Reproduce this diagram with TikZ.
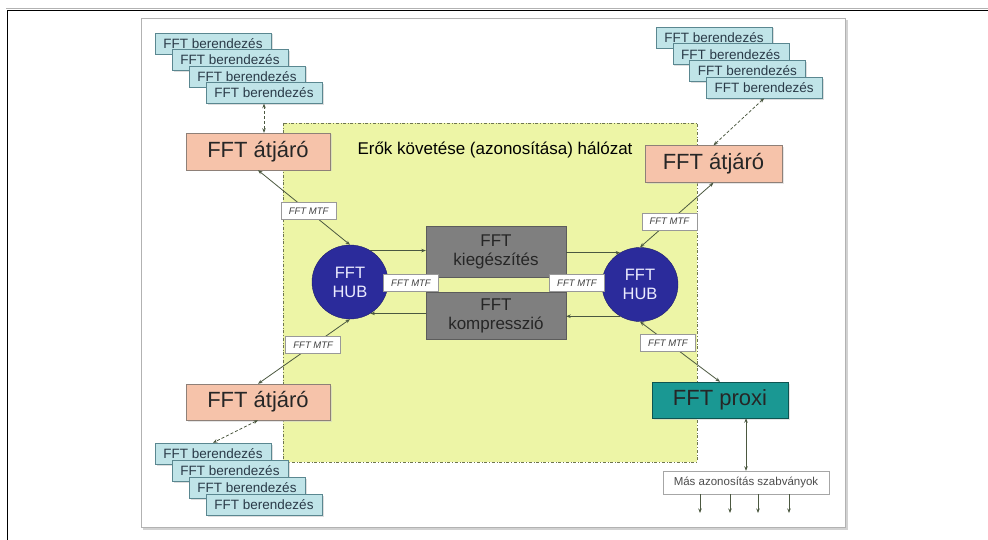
\documentclass[tikz,border=0pt]{standalone}
\usepackage{fontspec}
\setmainfont{Liberation Sans}
\usepackage{tikz}
\usetikzlibrary{positioning, arrows.meta, shapes.geometric, shadows}

\definecolor{netgreen}{HTML}{EDF5A6}
\definecolor{netborder}{HTML}{6E7550}
\definecolor{gwfill}{HTML}{F6C3AA}
\definecolor{gwborder}{HTML}{8E8078}
\definecolor{devfill}{HTML}{C0E4E8}
\definecolor{devborder}{HTML}{5A8790}
\definecolor{devtext}{HTML}{2A3A48}
\definecolor{hubblue}{HTML}{2B2B9B}
\definecolor{boxgray}{HTML}{7F7F7F}
\definecolor{boxborder}{HTML}{5C5C5C}
\definecolor{proxyteal}{HTML}{1A9893}
\definecolor{linecol}{HTML}{4B5840}

\tikzset{
  device/.style={draw=devborder, fill=devfill, minimum width=116pt, minimum height=21pt,
    inner sep=0pt, text=devtext, font=\fontsize{13.5}{14}\selectfont,
    drop shadow={shadow xshift=1.5pt, shadow yshift=-1.5pt, fill=black!25}},
  gateway/.style={draw=gwborder, fill=gwfill, minimum width=144pt, minimum height=37pt,
    inner sep=0pt, text=black!85, font=\fontsize{22}{24}\selectfont,
    drop shadow={shadow xshift=1.5pt, shadow yshift=-1.5pt, fill=black!20}},
  hub/.style={ellipse, draw=hubblue!70!black, fill=hubblue, minimum width=76pt,
    minimum height=74pt, inner sep=0pt, text=white!92!blue, align=center,
    font=\fontsize{16.5}{19}\selectfont},
  procbox/.style={draw=boxborder, fill=boxgray, minimum width=140pt, inner sep=0pt,
    text=black!85, align=center, font=\fontsize{17}{19}\selectfont},
  mtf/.style={draw=gray!80, fill=white, minimum width=55pt, minimum height=17pt,
    inner sep=0pt, text=black!75, font=\fontsize{9.5}{10}\selectfont\itshape},
  link/.style={draw=linecol, line width=0.8pt,
    {Stealth[length=4.5pt,width=3.5pt]}-{Stealth[length=4.5pt,width=3.5pt]}},
  oneway/.style={draw=linecol, line width=0.8pt, -{Stealth[length=4.5pt,width=3.5pt]}},
  devlink/.style={link, densely dashed},
}

\begin{document}
\begin{tikzpicture}[x=1pt, y=-1pt]
\useasboundingbox (0,0) rectangle (988,540);
\fill[white] (0,0) rectangle (988,540);
% page frame
\draw[gray!60, line width=0.6pt] (6,8.5) -- (988,8.5);
\draw[black, line width=1.4pt] (7.5,540) -- (7.5,10.5) -- (988,10.5);
\draw[gray!35, line width=2pt] (143,528.5) -- (846.5,528.5) -- (846.5,20);
\draw[gray!60, line width=0.7pt] (141,18) rectangle (845,527);

% network area
\draw[netborder, fill=netgreen, dash dot, line width=0.8pt] (283,123) rectangle (697,462);
\node (nettitle) at (495,150) {\fontsize{17}{19}\selectfont Erők követése (azonosítása) hálózat};

% devices
\foreach \i [count=\n] in {0,...,3} {
  \node[device] (tl\n) at (213+17*\i, 43.5+16.5*\i) {FFT berendezés};
  \node[device] (tr\n) at (714+16.7*\i, 37.5+16.7*\i) {FFT berendezés};
  \node[device] (bl\n) at (213+17*\i, 453.5+17*\i) {FFT berendezés};
}

% gateways
\node[gateway] (gwTL) at (258,151.5) {FFT átjáró};
\node[gateway, minimum width=137pt] (gwTR) at (713.5,164) {FFT átjáró};
\node[gateway, minimum height=36pt] (gwBL) at (258,402) {FFT átjáró};
\node[gateway, fill=proxyteal, draw=proxyteal!55!black, minimum width=136pt,
  minimum height=36pt, text=black!85] (proxy) at (720,400) {FFT proxi};
\node[draw=gray!70, fill=white, minimum width=166pt, minimum height=23pt, inner sep=0pt,
  text=black!70, font=\fontsize{11.5}{12}\selectfont] (other) at (746,482.5)
  {Más azonosítás szabványok};

% hubs and processing
\node[hub] (hubL) at (350,282) {FFT\\HUB};
\node[hub] (hubR) at (640,284.5) {FFT\\HUB};
\node[procbox, minimum height=51pt] (kieg) at (496,251.5) {FFT\\kiegészítés};
\node[procbox, minimum height=47pt] (kompr) at (496,315.5) {FFT\\kompresszió};

% connections
\draw[devlink] (tl4.south) -- (tl4.south |- gwTL.north);
\draw[devlink] (tr4.south) -- (gwTR.north);
\draw[devlink] (gwBL.south) -- (bl1.north);

\draw[link] (gwTL.south) -- node[mtf, pos=0.55] (mtfTL) {FFT MTF} (hubL.north);
\draw[link] (hubL.south) -- node[mtf, pos=0.4] (mtfBL) {FFT MTF} (gwBL.north);
\draw[link] (gwTR.south) -- node[mtf, pos=0.6] (mtfTR) {FFT MTF} (hubR.north);
\draw[link] (hubR.south) -- node[mtf, pos=0.35] (mtfBR) {FFT MTF} (proxy.north);

\draw[oneway] (hubL.57) -- (hubL.57 -| kieg.west);
\draw[oneway] (hubR.122 -| kieg.east) -- (hubR.122);
\draw[oneway] (hubR.-122) -- (hubR.-122 -| kompr.east);
\draw[oneway] (hubL.-57 -| kompr.west) -- (hubL.-57);

\node[mtf] (mtfL) at (411,283) {FFT MTF};
\node[mtf] (mtfR) at (577,283) {FFT MTF};

\draw[link] (other.north) -- (other.north |- proxy.south);
\foreach \x [count=\n] in {700,730,758,789} {
  \coordinate (out\n) at (\x,513);
  \draw[oneway] (out\n |- other.south) -- (out\n);
}
\end{tikzpicture}
\end{document}
